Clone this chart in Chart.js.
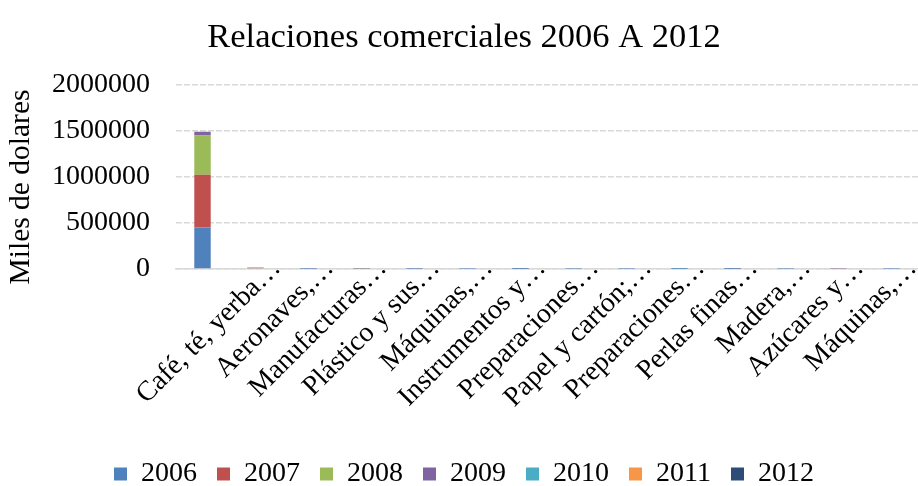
<!DOCTYPE html>
<html>
<head>
<meta charset="utf-8">
<script src="https://cdn.jsdelivr.net/npm/chart.js@4"></script>
<style>
  html, body { margin: 0; padding: 0; background: #fff; }
  #wrap { width: 918px; height: 486px; position: relative; }
</style>
</head>
<body>
<div id="wrap"><canvas id="barChart"></canvas></div>
<script>
const categories = [
  "Café, té, yerba…", "Aeronaves,…", "Manufacturas…", "Plástico y sus…",
  "Máquinas,…", "Instrumentos y…", "Preparaciones…", "Papel y cartón;…",
  "Preparaciones…", "Perlas finas…", "Madera,…", "Azúcares y…", "Máquinas,…", ""
];
const years = ["2006", "2007", "2008", "2009", "2010", "2011", "2012"];
const v2006 = [450000, 8000, 2000, 6000, 2000, 1500, 1000, 2000, 1500, 500, 500, 1500, 5000, 1500];
const v2007 = [571000, 4000, 1000, 2000, 1000, 500, 500, 1000, 1000, 500, 1000, 1000, 2000, 1000];
const v2008 = [426000, 5000, 1000, 1500, 1000, 500, 500, 500, 500, 500, 500, 500, 1000, 500];
const v2009 = [40000, 2000, 500, 1000, 500, 500, 500, 500, 500, 0, 500, 500, 1000, 500];
const v2010 = [0, 0, 0, 0, 0, 0, 0, 0, 0, 0, 0, 0, 0, 0];
const v2011 = [0, 0, 0, 0, 0, 0, 0, 0, 0, 0, 0, 0, 0, 0];
const v2012 = [0, 0, 0, 0, 0, 0, 0, 0, 0, 0, 0, 0, 0, 0];
const yTicks = [0, 500000, 1000000, 1500000, 2000000];
const yTitle = "Miles de dolares";

const colors = ["#4F81BD", "#C0504D", "#9BBB59", "#8064A2", "#4BACC6", "#F79646", "#2C4D75"];
const series = [v2006, v2007, v2008, v2009, v2010, v2011, v2012];

const serif = "'Liberation Serif', 'Times New Roman', serif";

// axis title sits a bit below the axis centre in the original, so draw it by hand
const yTitlePlugin = {
  id: "yTitle",
  afterDraw(chart){
    const c = chart.ctx;
    c.save();
    c.translate(21, 187);
    c.rotate(-Math.PI / 2);
    c.font = `29.5px ${serif}`;
    c.fillStyle = "#000";
    c.textAlign = "center";
    c.textBaseline = "middle";
    c.fillText(yTitle, 0, 0);
    c.restore();
  }
};

const ctx = document.getElementById("barChart").getContext("2d");
new Chart(ctx, {
  type: "bar",
  data: {
    labels: categories,
    datasets: series.map((d, i) => ({
      label: years[i], data: d, backgroundColor: colors[i],
      barPercentage: 0.31, categoryPercentage: 1
    }))
  },
  plugins: [yTitlePlugin],
  options: {
    responsive: true,
    maintainAspectRatio: false,
    animation: false,
    layout: { padding: { left: 10, right: 0, top: 0, bottom: -12 } },
    plugins: {
      title: {
        display: true, text: "Relaciones comerciales 2006 A 2012", color: "#000",
        font: { family: serif, size: 34.5, weight: "normal" },
        padding: { top: 17, bottom: 26 }
      },
      legend: {
        position: "bottom",
        labels: {
          color: "#000", boxWidth: 13, boxHeight: 13, padding: 20,
          font: { family: serif, size: 28 }
        }
      },
      tooltip: { enabled: false }
    },
    scales: {
      x: {
        stacked: true,
        grid: { display: false, drawTicks: false },
        border: { display: true, color: "#d9d9d9", width: 1.5 },
        ticks: {
          color: "#000", autoSkip: false, maxRotation: 45, minRotation: 45,
          labelOffset: 74, padding: -17,
          font: { family: serif, size: 28 }
        },
        afterFit: s => { s.height = 171; }
      },
      y: {
        stacked: true, min: 0, max: 2000000,
        afterBuildTicks: s => { s.ticks = yTicks.map(v => ({ value: v })); },
        grid: { color: "#d9d9d9", lineWidth: 1.5, drawTicks: false },
        border: { display: false, dash: [6, 2] },
        ticks: {
          color: "#000", padding: 26, font: { family: serif, size: 28 },
          callback: v => String(v)
        },
        afterFit: s => { s.width = 166; }
      }
    }
  }
});
</script>
</body>
</html>
